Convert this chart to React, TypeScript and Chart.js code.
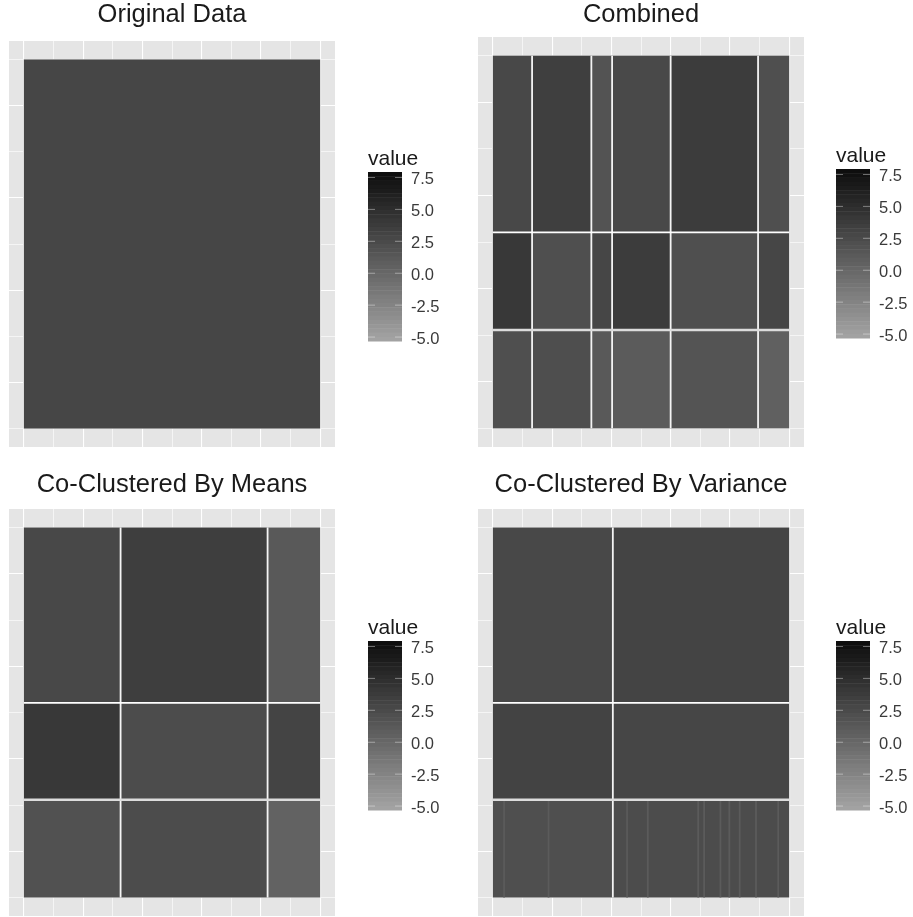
import { useEffect, useRef } from "react";
import { Chart, registerables } from "chart.js";

Chart.register(...registerables);

const FONT = "'Liberation Sans', Arial, sans-serif";

// Column and row boundaries of the clusters, in cell numbers (200 columns, 250 rows).
const COLUMNS = 200;
const ROWS = 250;
const rowBreaks = [118.5, 184];
const combinedColumnBreaks = [26.5, 66.5, 80.5, 120, 179];
const meansColumnBreaks = [65.3, 164.5];
const varianceColumnBreaks = [81];

// Estimated mean value of each cluster block, row by row.
const originalValues = [[2.9]];
const combinedValues = [
  [2.7, 3.5, 1.7, 2.6, 3.7, 2.1],
  [4.1, 2.1, 2.9, 3.7, 2.1, 2.9],
  [2.1, 2.2, 1.2, 1.0, 1.6, 0.6],
];
const meansValues = [
  [2.7, 3.6, 1.2],
  [4.1, 2.3, 3.0],
  [1.9, 2.3, 0.4],
];
const varianceValues = [
  [2.7, 3.0],
  [3.1, 2.9],
  [2.1, 2.3],
];

// Pale vertical stripes seen in the lower row of the variance panel (column numbers, value).
const varianceStripeColumns = [7, 37, 138, 192];
const varianceStripeColumnsRight = [90, 104, 142, 153, 159, 166, 177];
const stripeValue = 1.0;

// Colour bar
const legendLevels = [
  7.8, 7.5, 7.1, 6.8, 6.5, 6.1, 5.8, 5.5, 5.1, 4.8, 4.5, 4.1, 3.8, 3.5, 3.1, 2.8, 2.5, 2.1, 1.8, 1.5,
  1.1, 0.8, 0.5, 0.1, -0.2, -0.5, -0.9, -1.2, -1.5, -1.9, -2.2, -2.5, -2.9, -3.2, -3.5, -3.9, -4.2, -4.5, -4.9, -5.2,
];
const legendTicks = [7.5, 5.0, 2.5, 0.0, -2.5, -5.0];
const legendMin = -5.31;
const legendMax = 7.93;

const gridX = [0, 20, 40, 60, 80, 100, 120, 140, 160, 180, 200];
const gridY = [0, 31.25, 62.5, 93.75, 125, 156.25, 187.5, 218.75, 250];

const tone = (v: number) => {
  const g = Math.round(17 + (7.5 - v) * 11.44);
  return `rgb(${g},${g},${g})`;
};

type Cell = { x: number; y: number; x0: number; x1: number; y0: number; y1: number; v: number };

const edges = (breaks: number[], end: number) => [0, ...breaks, end];

function blockCells(colBreaks: number[], rBreaks: number[], values: number[][]): Cell[] {
  const cx = edges(colBreaks, COLUMNS);
  const cy = edges(rBreaks, ROWS);
  const out: Cell[] = [];
  values.forEach((row, r) =>
    row.forEach((v, c) => {
      out.push({
        x: (cx[c] + cx[c + 1]) / 2,
        y: (cy[r] + cy[r + 1]) / 2,
        x0: cx[c],
        x1: cx[c + 1],
        y0: cy[r],
        y1: cy[r + 1],
        v,
      });
    })
  );
  return out;
}

const stripeCells = (cols: number[]): Cell[] =>
  cols.map((c) => ({ x: c + 0.5, y: 217, x0: c, x1: c + 1.2, y0: 184, y1: 250, v: stripeValue }));

const heatPlugin = {
  id: "heat",
  beforeDraw(chart: any) {
    const o = chart.options.plugins.heat;
    const a = chart.chartArea;
    if (o.background) {
      chart.ctx.fillStyle = o.background;
      chart.ctx.fillRect(a.left, a.top, a.width, a.height);
    }
  },
  beforeDatasetsDraw(chart: any) {
    const { ctx, scales } = chart;
    const o = chart.options.plugins.heat;
    const cells = chart.data.datasets[0].data as Cell[];
    cells.forEach((c) => {
      const l = scales.x.getPixelForValue(c.x0);
      const r = scales.x.getPixelForValue(c.x1);
      const t = scales.y.getPixelForValue(c.y0);
      const b = scales.y.getPixelForValue(c.y1);
      ctx.fillStyle = tone(c.v);
      ctx.fillRect(l, Math.min(t, b), r - l, Math.abs(b - t));
    });
    ctx.strokeStyle = "#f4f4f4";
    ctx.lineWidth = 1.8;
    (o.colBreaks || []).forEach((b: number) => {
      const p = scales.x.getPixelForValue(b);
      ctx.beginPath();
      ctx.moveTo(p, scales.y.getPixelForValue(0));
      ctx.lineTo(p, scales.y.getPixelForValue(ROWS));
      ctx.stroke();
    });
    (o.rowBreaks || []).forEach((b: number, i: number) => {
      const p = scales.y.getPixelForValue(b);
      ctx.strokeStyle = i === 0 ? "#ffffff" : "#dcdcdc";
      ctx.lineWidth = i === 0 ? 1.8 : 2.4;
      ctx.beginPath();
      ctx.moveTo(scales.x.getPixelForValue(0), p);
      ctx.lineTo(scales.x.getPixelForValue(COLUMNS), p);
      ctx.stroke();
    });
  },
};

const legendPlugin = {
  id: "colorbar",
  beforeDatasetsDraw(chart: any) {
    const { ctx, chartArea: a, scales } = chart;
    const step = (legendMax - legendMin) / legendLevels.length;
    legendLevels.forEach((v, i) => {
      const top = scales.y.getPixelForValue(legendMax - i * step);
      const bottom = scales.y.getPixelForValue(legendMax - (i + 1) * step);
      ctx.fillStyle = tone(v);
      ctx.fillRect(a.left, top, a.width, bottom - top + 0.5);
    });
    ctx.strokeStyle = "rgba(255,255,255,0.4)";
    ctx.lineWidth = 1;
    legendTicks.forEach((t) => {
      const p = scales.y.getPixelForValue(t);
      ctx.beginPath();
      ctx.moveTo(a.left, p);
      ctx.lineTo(a.left + 7, p);
      ctx.moveTo(a.right - 7, p);
      ctx.lineTo(a.right, p);
      ctx.stroke();
    });
  },
};

type Panel = {
  title: string;
  left: number;
  right: number;
  top: number;
  bottom: number;
  colBreaks: number[];
  rowBreaks: number[];
  values: number[][];
  stripes: number[];
  legendX: number;
  legendY: number;
};

const panels: Panel[] = [
  { title: "Original Data", left: 9, right: 335, top: 41, bottom: 447, colBreaks: [], rowBreaks: [], values: originalValues, stripes: [], legendX: 340, legendY: 130 },
  { title: "Combined", left: 478, right: 804, top: 37, bottom: 447, colBreaks: combinedColumnBreaks, rowBreaks, values: combinedValues, stripes: [], legendX: 808, legendY: 127 },
  { title: "Co-Clustered By Means", left: 9, right: 335, top: 509, bottom: 916, colBreaks: meansColumnBreaks, rowBreaks, values: meansValues, stripes: [], legendX: 340, legendY: 599 },
  { title: "Co-Clustered By Variance", left: 478, right: 804, top: 509, bottom: 916, colBreaks: varianceColumnBreaks, rowBreaks, values: varianceValues, stripes: [...varianceStripeColumns, ...varianceStripeColumnsRight], legendX: 808, legendY: 599 },
];

const W = 913;
const H = 917;

function PanelChart({ panel }: { panel: Panel }) {
  const ref = useRef<HTMLCanvasElement>(null);
  const legendRef = useRef<HTMLCanvasElement>(null);
  const canvasTop = panel.top > 300 ? 470 : 0;
  const canvasLeft = panel.left > 300 ? 456 : 0;
  const cw = 350;
  const ch = 447;

  useEffect(() => {
    document.body.style.margin = "0";
    const cells = [...blockCells(panel.colBreaks, panel.rowBreaks, panel.values), ...stripeCells(panel.stripes)];
    const titleHeight = 25.5;
    const titleTop = 2.3;
    const chart = new Chart(ref.current!, {
      type: "scatter",
      data: { datasets: [{ data: cells as any, pointRadius: 0, pointHoverRadius: 0 }] },
      options: {
        responsive: false,
        animation: false,
        layout: {
          padding: {
            left: panel.left - canvasLeft,
            right: cw - (panel.right - canvasLeft),
            top: 0,
            bottom: ch - (panel.bottom - canvasTop),
          },
        },
        plugins: {
          legend: { display: false },
          tooltip: { enabled: false },
          title: {
            display: true,
            text: panel.title,
            color: "#1a1a1a",
            font: { family: FONT, size: 25.5, weight: "normal", lineHeight: 1 },
            padding: { top: titleTop, bottom: panel.top - canvasTop - titleHeight - titleTop },
          },
          heat: { background: "#e5e5e5", colBreaks: panel.colBreaks, rowBreaks: panel.rowBreaks },
        } as any,
        scales: {
          x: {
            type: "linear",
            min: -0.05 * COLUMNS,
            max: 1.05 * COLUMNS,
            afterBuildTicks: (s: any) => {
              s.ticks = gridX.map((value) => ({ value }));
            },
            ticks: { display: false },
            border: { display: false },
            grid: { color: "#ffffff", drawTicks: false, lineWidth: (c: any) => (c.index % 2 ? 0.6 : 1.1) },
          },
          y: {
            type: "linear",
            reverse: true,
            min: -0.05 * ROWS,
            max: 1.05 * ROWS,
            afterBuildTicks: (s: any) => {
              s.ticks = gridY.map((value) => ({ value }));
            },
            ticks: { display: false },
            border: { display: false },
            grid: { color: "#ffffff", drawTicks: false, lineWidth: (c: any) => (c.index % 2 ? 1.1 : 0.6) },
          },
        },
      },
      plugins: [heatPlugin as any],
    });

    const legend = new Chart(legendRef.current!, {
      type: "scatter",
      data: { datasets: [{ data: legendLevels.map((v) => ({ x: 0.5, y: v })), pointRadius: 0 }] },
      options: {
        responsive: false,
        animation: false,
        layout: { padding: { left: 28, right: 0, top: 0, bottom: 19 } },
        plugins: {
          legend: { display: false },
          tooltip: { enabled: false },
          title: {
            display: true,
            text: "value",
            align: "start",
            color: "#1a1a1a",
            font: { family: FONT, size: 21, weight: "normal", lineHeight: 1.2 },
            padding: { top: 16.4, bottom: 0.4 },
          },
        },
        scales: {
          x: { type: "linear", display: false, min: 0, max: 1 },
          y: {
            type: "linear",
            position: "right",
            min: legendMin,
            max: legendMax,
            afterBuildTicks: (s: any) => {
              s.ticks = legendTicks.map((value) => ({ value }));
            },
            afterFit: (s: any) => {
              s.width = 48;
            },
            border: { display: false },
            grid: { display: false, drawTicks: false },
            ticks: {
              color: "#3a3a3a",
              padding: 9,
              crossAlign: "near",
              autoSkip: false,
              labelOffset: 2,
              font: { family: FONT, size: 16.5 },
              callback: (v: any) => Number(v).toFixed(1),
            },
          },
        },
      },
      plugins: [legendPlugin as any],
    });

    return () => {
      chart.destroy();
      legend.destroy();
    };
  }, [panel]);

  return (
    <>
      <canvas ref={ref} width={cw} height={ch} style={{ position: "absolute", left: canvasLeft, top: canvasTop }} />
      <canvas ref={legendRef} width={110} height={230} style={{ position: "absolute", left: panel.legendX, top: panel.legendY }} />
    </>
  );
}

export default function App() {
  return (
    <div style={{ position: "relative", width: W, height: H, background: "#ffffff", overflow: "hidden" }}>
      {panels.map((p) => (
        <PanelChart key={p.title} panel={p} />
      ))}
    </div>
  );
}
